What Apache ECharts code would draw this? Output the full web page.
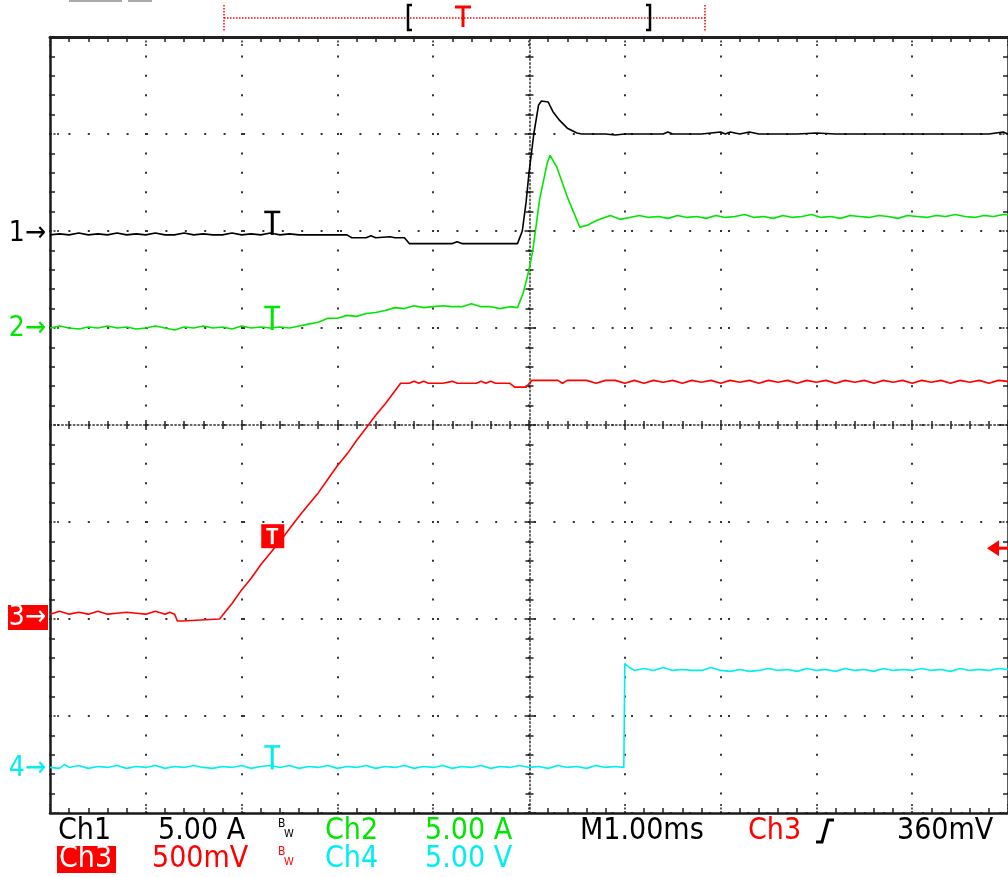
<!DOCTYPE html>
<html>
<head>
<meta charset="utf-8">
<script src="https://cdn.jsdelivr.net/npm/echarts@6/dist/echarts.min.js"></script>
<style>
html,body{margin:0;padding:0;background:#fff;}
#main{width:1008px;height:877px;}
</style>
</head>
<body>
<div id="main"></div>
<script>
// time in ms (1 ms/div), values in screen divisions (0 = bottom, 8 = top)
const ch1Data = [[0,5.96],[0.1,5.97],[0.2,5.96],[0.3,5.98],[0.4,5.96],[0.5,5.97],[0.6,5.96],[0.7,5.98],[0.8,5.96],[0.9,5.97],[1.0,5.96],[1.1,5.98],[1.2,5.96],[1.3,5.96],[1.4,5.98],[1.5,5.96],[1.6,5.97],[1.7,5.96],[1.8,5.96],[1.9,5.98],[2.0,5.96],[2.1,5.97],[2.2,5.96],[2.3,5.98],[2.4,5.96],[2.5,5.97],[2.6,5.96],[2.7,5.96],[2.8,5.96],[2.9,5.96],[3.0,5.96],[3.1,5.96],[3.15,5.93],[3.3,5.93],[3.35,5.95],[3.4,5.93],[3.55,5.94],[3.6,5.93],[3.7,5.93],[3.75,5.87],[4.0,5.87],[4.2,5.87],[4.25,5.89],[4.3,5.87],[4.6,5.87],[4.88,5.87],[4.93,6.0],[4.97,6.3],[5.0,6.6],[5.05,7.0],[5.1,7.3],[5.13,7.34],[5.2,7.33],[5.25,7.23],[5.32,7.14],[5.4,7.06],[5.5,7.01],[5.55,7.0],[5.6,7.0],[5.8,7.0],[5.9,6.99],[6.0,7.0],[6.2,7.0],[6.4,7.0],[6.45,7.02],[6.5,7.0],[6.8,7.0],[7.0,7.02],[7.05,7.0],[7.1,7.02],[7.2,7.0],[7.3,7.02],[7.4,7.0],[7.6,7.0],[7.8,7.0],[8.0,7.01],[8.2,7.0],[8.5,7.0],[8.8,7.0],[9.0,7.0],[9.3,7.0],[9.6,7.0],[9.8,7.0],[9.95,7.02],[10,7.0]];

const ch2Data = [[0,5.0],[0.1,5.02],[0.2,5.0],[0.3,4.99],[0.4,5.01],[0.5,5.0],[0.6,5.02],[0.7,5.0],[0.8,5.01],[0.9,4.99],[1.0,5.0],[1.1,5.02],[1.2,5.0],[1.3,4.98],[1.4,5.01],[1.5,5.0],[1.6,5.02],[1.7,5.0],[1.8,5.01],[1.9,4.99],[2.0,5.02],[2.1,5.0],[2.2,5.01],[2.3,5.0],[2.4,5.01],[2.5,5.0],[2.6,5.02],[2.7,5.04],[2.8,5.06],[2.9,5.1],[3.0,5.1],[3.1,5.13],[3.2,5.12],[3.3,5.15],[3.4,5.16],[3.5,5.18],[3.6,5.21],[3.7,5.2],[3.8,5.23],[3.9,5.21],[4.0,5.22],[4.1,5.23],[4.2,5.22],[4.3,5.22],[4.4,5.25],[4.5,5.22],[4.6,5.22],[4.7,5.2],[4.8,5.22],[4.88,5.21],[4.94,5.36],[5.0,5.6],[5.04,5.8],[5.11,6.32],[5.19,6.7],[5.22,6.78],[5.29,6.66],[5.4,6.35],[5.53,6.04],[5.61,6.06],[5.71,6.11],[5.85,6.16],[5.95,6.12],[6.05,6.14],[6.15,6.16],[6.25,6.14],[6.35,6.15],[6.45,6.13],[6.55,6.16],[6.65,6.14],[6.75,6.15],[6.85,6.13],[6.95,6.16],[7.05,6.14],[7.15,6.15],[7.25,6.17],[7.35,6.14],[7.45,6.15],[7.55,6.13],[7.65,6.16],[7.75,6.14],[7.85,6.15],[7.95,6.17],[8.05,6.14],[8.15,6.15],[8.25,6.13],[8.35,6.16],[8.45,6.15],[8.55,6.14],[8.65,6.16],[8.75,6.15],[8.85,6.13],[8.95,6.16],[9.05,6.15],[9.15,6.14],[9.25,6.16],[9.35,6.15],[9.45,6.17],[9.55,6.15],[9.65,6.14],[9.75,6.16],[9.85,6.15],[9.95,6.17],[10,6.17]];

const ch3Data = [[0,2.05],[0.1,2.08],[0.2,2.05],[0.3,2.07],[0.4,2.05],[0.5,2.08],[0.6,2.05],[0.7,2.06],[0.8,2.07],[0.9,2.06],[1.0,2.05],[1.1,2.08],[1.2,2.05],[1.25,2.07],[1.3,2.05],[1.33,1.98],[1.38,1.98],[1.4,2.0],[1.77,2.0],[1.9,2.16],[2.0,2.3],[2.1,2.42],[2.2,2.56],[2.3,2.68],[2.4,2.8],[2.5,2.93],[2.6,3.06],[2.7,3.18],[2.8,3.3],[2.9,3.44],[3.0,3.58],[3.1,3.7],[3.2,3.84],[3.3,3.97],[3.4,4.1],[3.5,4.22],[3.6,4.35],[3.66,4.43],[3.75,4.43],[3.8,4.45],[3.85,4.43],[3.9,4.45],[3.95,4.43],[4.1,4.43],[4.2,4.45],[4.25,4.43],[4.45,4.43],[4.5,4.45],[4.55,4.43],[4.6,4.45],[4.65,4.43],[4.8,4.43],[4.85,4.39],[4.97,4.39],[5.03,4.46],[5.1,4.46],[5.2,4.46],[5.3,4.46],[5.35,4.43],[5.4,4.46],[5.5,4.46],[5.6,4.46],[5.7,4.43],[5.8,4.46],[5.9,4.46],[6.0,4.43],[6.1,4.46],[6.2,4.43],[6.3,4.46],[6.4,4.44],[6.5,4.46],[6.6,4.43],[6.7,4.46],[6.8,4.44],[6.9,4.46],[7.0,4.43],[7.1,4.46],[7.2,4.44],[7.3,4.46],[7.4,4.43],[7.5,4.46],[7.6,4.44],[7.7,4.46],[7.8,4.43],[7.9,4.46],[8.0,4.44],[8.1,4.46],[8.2,4.43],[8.3,4.46],[8.4,4.44],[8.5,4.46],[8.6,4.43],[8.7,4.46],[8.8,4.44],[8.9,4.46],[9.0,4.43],[9.1,4.46],[9.2,4.44],[9.3,4.46],[9.4,4.43],[9.5,4.46],[9.6,4.44],[9.7,4.46],[9.8,4.43],[9.9,4.46],[10,4.45]];

const ch4Data = [[0,0.47],[0.1,0.46],[0.15,0.5],[0.2,0.47],[0.3,0.49],[0.4,0.46],[0.5,0.48],[0.6,0.47],[0.7,0.49],[0.8,0.46],[0.9,0.48],[1.0,0.47],[1.1,0.49],[1.2,0.46],[1.3,0.48],[1.4,0.47],[1.5,0.49],[1.6,0.47],[1.7,0.46],[1.8,0.48],[1.9,0.47],[2.0,0.49],[2.1,0.46],[2.2,0.48],[2.3,0.49],[2.4,0.47],[2.5,0.49],[2.6,0.46],[2.7,0.48],[2.8,0.47],[2.9,0.49],[3.0,0.46],[3.1,0.48],[3.2,0.47],[3.3,0.49],[3.4,0.46],[3.5,0.48],[3.6,0.47],[3.7,0.49],[3.8,0.46],[3.9,0.48],[4.0,0.47],[4.1,0.49],[4.2,0.46],[4.3,0.48],[4.4,0.47],[4.5,0.49],[4.6,0.46],[4.7,0.48],[4.8,0.47],[4.9,0.49],[5.0,0.47],[5.1,0.48],[5.2,0.46],[5.3,0.49],[5.4,0.47],[5.5,0.48],[5.6,0.46],[5.7,0.49],[5.8,0.47],[5.9,0.48],[5.99,0.47],[6.0,1.54],[6.05,1.5],[6.1,1.47],[6.2,1.49],[6.3,1.47],[6.4,1.5],[6.5,1.47],[6.6,1.48],[6.7,1.47],[6.8,1.47],[6.9,1.5],[7.0,1.47],[7.1,1.46],[7.2,1.48],[7.3,1.46],[7.4,1.47],[7.5,1.49],[7.6,1.47],[7.7,1.48],[7.8,1.46],[7.9,1.49],[8.0,1.47],[8.1,1.48],[8.2,1.46],[8.3,1.49],[8.4,1.47],[8.5,1.48],[8.6,1.46],[8.7,1.49],[8.8,1.47],[8.9,1.48],[9.0,1.47],[9.1,1.49],[9.2,1.47],[9.3,1.48],[9.4,1.46],[9.5,1.49],[9.6,1.47],[9.7,1.48],[9.8,1.47],[9.9,1.49],[10,1.48]];

const channelNames = ['1', '2', '3', '4'];
const channelColors = ['#000000', '#00e600', '#ff0000', '#00eeee'];
const markerLevels = [5.98, 5.0, 2.02, 0.47];
const triggerTime = 2.32;
const triggerLevel = 2.73;
const statusRow1 = [
  {text:'Ch1', x:58, c:0}, {text:'5.00 A', x:158, c:0},
  {text:'Ch2', x:325, c:1}, {text:'5.00 A', x:425, c:1},
  {text:'M1.00ms', x:580, c:0}, {text:'Ch3', x:748, c:2}, {text:'360mV', x:897, c:0}
];
const statusRow2 = [
  {text:'500mV', x:152, c:2}, {text:'Ch4', x:325, c:3}, {text:'5.00 V', x:425, c:3}
];

const FONT = "'DejaVu Sans Condensed','Liberation Sans Narrow','DejaVu Sans',sans-serif";
const chart = echarts.init(document.getElementById('main'), null, {renderer:'canvas'});

const tickCol = '#222';
function baseX(extra){
  return Object.assign({type:'value', min:0, max:10, interval:1, axisLabel:{show:false},
    splitLine:{show:false}, axisTick:{show:false}, minorTick:{show:false},
    axisLine:{show:false, onZero:false}}, extra);
}
function baseY(extra){
  return Object.assign({type:'value', min:0, max:8, interval:1, axisLabel:{show:false},
    splitLine:{show:false}, axisTick:{show:false}, minorTick:{show:false},
    axisLine:{show:false, onZero:false}}, extra);
}
const borderTicks = {
  axisTick:{show:true, inside:true, length:9, lineStyle:{color:tickCol, width:1.5, type:[2,1.5]}},
  minorTick:{show:true, splitNumber:5, length:5, lineStyle:{color:tickCol, width:1.5}}
};

const option = {
  animation:false,
  backgroundColor:'#ffffff',
  grid:{left:50, top:37, right:-1, bottom:64, containLabel:false},
  xAxis:[
    baseX(Object.assign({position:'bottom',
      axisLine:{show:true, onZero:false, lineStyle:{color:'#1a1a1a', width:2.5}},
      splitLine:{show:true, lineStyle:{color:'#333', width:2, type:[2,17.4], dashOffset:1}}}, borderTicks)),
    baseX(Object.assign({position:'top',
      axisLine:{show:true, onZero:false, lineStyle:{color:'#222', width:3}}}, borderTicks)),
    baseX({position:'bottom', offset:-388,
      axisLine:{show:true, onZero:false, lineStyle:{color:'#333', width:1.5, type:[1.5,2.4]}},
      axisTick:{show:true, inside:true, length:5, lineStyle:{color:tickCol, width:1.5}},
      minorTick:{show:true, splitNumber:5, length:4, lineStyle:{color:tickCol, width:1.5}}}),
    baseX({position:'bottom', offset:-388,
      axisTick:{show:true, inside:false, length:5, lineStyle:{color:tickCol, width:1.5}},
      minorTick:{show:true, splitNumber:5, length:4, lineStyle:{color:tickCol, width:1.5}}})
  ],
  yAxis:[
    baseY(Object.assign({position:'left',
      axisLine:{show:true, onZero:false, lineStyle:{color:'#1a1a1a', width:2.5}},
      splitLine:{show:true, lineStyle:{color:'#333', width:2, type:[2,17.4], dashOffset:1}}}, borderTicks)),
    baseY(Object.assign({position:'right',
      axisLine:{show:true, onZero:false, lineStyle:{color:'#222', width:2.5}}}, borderTicks)),
    baseY({position:'left', offset:-479.5,
      axisLine:{show:true, onZero:false, lineStyle:{color:'#333', width:1.5, type:[1.5,2.4]}},
      axisTick:{show:true, inside:true, length:5, lineStyle:{color:tickCol, width:1.5}},
      minorTick:{show:true, splitNumber:5, length:4, lineStyle:{color:tickCol, width:1.5}}}),
    baseY({position:'left', offset:-479.5,
      axisTick:{show:true, inside:false, length:5, lineStyle:{color:tickCol, width:1.5}},
      minorTick:{show:true, splitNumber:5, length:4, lineStyle:{color:tickCol, width:1.5}}})
  ],
  series:[ch4Data, ch3Data, ch2Data, ch1Data].map((d, i) => {
    const ci = 3 - i;
    return {type:'line', name:'Ch' + channelNames[ci], xAxisIndex:0, yAxisIndex:0, data:d,
      symbol:'none', showSymbol:false, smooth:false, z:10 + i,
      lineStyle:{color:channelColors[ci], width:1.6}};
  })
};
chart.setOption(option);

const px = (t, v) => chart.convertToPixel({seriesIndex:0}, [t, v]);
const g = [];
function txt(text, x, y, fill, size, extra){
  g.push(Object.assign({type:'text', z:100, style:{text:text, x:x, y:y, fill:fill, fontSize:size,
    fontFamily:FONT, verticalAlign:'middle', align:'left'}}, extra || {}));
}
function line(x1, y1, x2, y2, stroke, w, dash){
  g.push({type:'line', z:100, shape:{x1:x1, y1:y1, x2:x2, y2:y2},
    style:{stroke:stroke, lineWidth:w, lineDash:dash || null}});
}

// channel ground markers on the left
markerLevels.forEach((lv, i) => {
  const y = px(0, lv)[1];
  if (i === 2) {
    g.push({type:'rect', z:99, shape:{x:8, y:y - 12, width:40, height:25}, style:{fill:'#ff0000'}});
    g.push({type:'text', z:100, style:{text:channelNames[i] + '→', x:46, y:y + 1, fill:'#ffffff',
      fontSize:28, fontFamily:FONT, align:'right', verticalAlign:'middle'}});
  } else {
    g.push({type:'text', z:100, style:{text:channelNames[i] + '→', x:46, y:y + 1, fill:channelColors[i],
      fontSize:28, fontFamily:FONT, align:'right', verticalAlign:'middle'}});
  }
});

// trigger-position T markers on traces
const tx = px(triggerTime, 0)[0];
[0, 1, 3].forEach(i => {
  const y = px(0, markerLevels[i])[1];
  const yb = y - 21;
  line(tx - 8, yb, tx + 8, yb, channelColors[i], 2.5);
  line(tx, yb, tx, y + 2, channelColors[i], 3);
});
const ty = px(0, triggerLevel)[1];
g.push({type:'rect', z:100, shape:{x:tx - 11, y:ty - 24, width:23, height:24}, style:{fill:'#ff0000'}});
line(tx - 6, ty - 19, tx + 6, ty - 19, '#ffffff', 2.5);
line(tx, ty - 19, tx, ty - 4, '#ffffff', 3);

// trigger level arrow on the right
const ay = px(0, triggerLevel)[1];
g.push({type:'polygon', z:100, shape:{points:[[987, ay], [999, ay - 8], [999, ay + 8]]}, style:{fill:'#ff0000'}});
line(998, ay, 1008, ay, '#ff0000', 3);

// record-length bar at top
line(224, 18, 705, 18, '#ff0000', 1.5, [1.5, 1.5]);
line(224, 5, 224, 31, '#ff0000', 1.5, [1.5, 1.5]);
line(705, 5, 705, 31, '#ff0000', 1.5, [1.5, 1.5]);
g.push({type:'polyline', z:100, shape:{points:[[412, 5], [408, 5], [408, 30], [412, 30]]}, style:{stroke:'#000', lineWidth:2.5, fill:null}});
g.push({type:'polyline', z:100, shape:{points:[[646, 5], [650, 5], [650, 30], [646, 30]]}, style:{stroke:'#000', lineWidth:2.5, fill:null}});
line(455, 7, 471, 7, '#ff0000', 3);
line(463, 7, 463, 27, '#ff0000', 3);
g.push({type:'rect', z:100, shape:{x:69, y:0, width:53, height:2}, style:{fill:'#aaaaaa'}});
g.push({type:'rect', z:100, shape:{x:128, y:0, width:24, height:2}, style:{fill:'#aaaaaa'}});

// status text
statusRow1.forEach(s => txt(s.text, s.x, 831, channelColors[s.c], 30));
statusRow2.forEach(s => txt(s.text, s.x, 859, channelColors[s.c], 30));
g.push({type:'rect', z:99, shape:{x:57, y:846, width:59, height:27}, style:{fill:'#ff0000'}});
txt('Ch3', 59, 859, '#ffffff', 30);
txt('B', 278, 824, '#000', 12); txt('W', 284, 834, '#000', 11);
txt('B', 278, 852, '#ff0000', 12); txt('W', 284, 862, '#ff0000', 11);
g.push({type:'polyline', z:100, shape:{points:[[816, 842], [822, 842], [828, 820], [834, 820]]}, style:{stroke:'#000', lineWidth:3, fill:null}});

chart.setOption({graphic:g});
</script>
</body>
</html>
